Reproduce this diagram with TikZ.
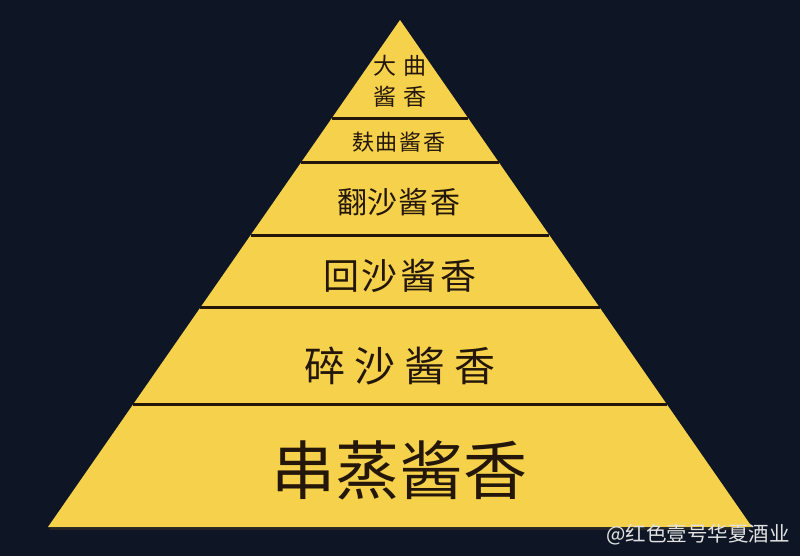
\documentclass[tikz,border=0pt]{standalone}
\usepackage{fontspec}
\newfontfamily\cjk{Noto Sans CJK SC}
\usetikzlibrary{calc}
\definecolor{bg}{HTML}{0E1625}
\definecolor{gold}{HTML}{F6D24C}
\definecolor{ink}{HTML}{24170A}
\definecolor{wm}{HTML}{E2E2E2}
\tikzset{
  lvl/.style={text=ink, inner sep=0pt, anchor=center},
  sepline/.style={draw=ink, line width=3pt},
  fs/.style={font=\cjk\fontsize{#1}{#1}\selectfont}
}
\begin{document}
\begin{tikzpicture}[x=1pt,y=-1pt]
\fill[bg] (0,0) rectangle (800,556);
\useasboundingbox (0,0) rectangle (800,556);
\coordinate (A) at (400,20);
\coordinate (L) at (48,527);
\coordinate (R) at (752,527);
\fill[gold] (A) -- (L) -- (R) -- cycle;
\draw[black!85, line width=2pt] ($(L)+(2,2)$) coordinate (Ls) -- ($(R)+(-2,2)$) coordinate (Rs);
% separators
\foreach \t [count=\i] in {0.1933,0.2801,0.4241,0.5680,0.7574}{
  \coordinate (l\i) at ($(A)!\t!(L)$);
  \coordinate (r\i) at ($(A)!\t!(R)$);
  \draw[sepline] (l\i) -- (r\i);
}
% labels
\node[lvl, fs=23pt] (t1a) at (400,66) {大\hspace{7pt}曲};
\node[lvl, fs=23pt] (t1b) at (400,97) {酱\hspace{7pt}香};
\node[lvl, fs=22pt] (t2) at (399,142.5) {麸\hspace{2pt}曲\hspace{2pt}酱\hspace{2pt}香};
\node[lvl, fs=30pt] (t3) at (398.5,202) {翻\hspace{1pt}沙\hspace{1pt}酱\hspace{1pt}香};
\node[lvl, fs=36pt] (t4) at (399.5,276) {回\hspace{3pt}沙\hspace{3pt}酱\hspace{3pt}香};
\node[lvl, fs=41pt] (t5) at (400,366) {碎\hspace{9pt}沙\hspace{9pt}酱\hspace{9pt}香};
\node[lvl, fs=64pt] (t6) at (399.5,470) {串\hspace{0pt}蒸\hspace{0pt}酱\hspace{0pt}香};
% watermark
\node[text=wm, inner sep=0pt, anchor=east, fs=20.5pt] (wm) at (790,535) {@红色壹号华夏酒业};
\end{tikzpicture}
\end{document}
